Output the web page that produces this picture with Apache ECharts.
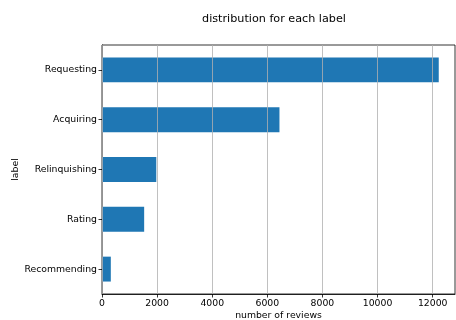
<!DOCTYPE html>
<html>
<head>
<meta charset="utf-8">
<script src="https://cdn.jsdelivr.net/npm/echarts@6/dist/echarts.min.js"></script>
<style>
  html, body { margin: 0; padding: 0; background: #fff; }
  #chart { width: 456px; height: 320px; }
</style>
</head>
<body>
<div id="chart"></div>
<script>
// Review counts per label
const labels = ['Requesting', 'Acquiring', 'Relinquishing', 'Rating', 'Recommending'];
const reviewCounts = [12220, 6440, 1970, 1530, 320];
const xTicks = [0, 2000, 4000, 6000, 8000, 10000, 12000];
const xMax = 12810;

const FONT = 'DejaVu Sans';
const chart = echarts.init(document.getElementById('chart'), null, { renderer: 'canvas' });

chart.setOption({
  animation: false,
  backgroundColor: '#ffffff',
  textStyle: { fontFamily: FONT },
  title: {
    text: 'distribution for each label',
    left: 269,
    top: 9,
    textAlign: 'center',
    textStyle: { fontFamily: FONT, fontSize: 11.2, fontWeight: 'normal', color: '#000' }
  },
  grid: {
    left: 102, right: 1, top: 45, bottom: 26,
    outerBoundsMode: 'none',
    containLabel: false,
    show: true, borderColor: '#000', borderWidth: 0.8, backgroundColor: 'transparent'
  },
  xAxis: {
    type: 'value',
    min: 0,
    max: xMax,
    z: 5,
    name: 'number of reviews',
    nameLocation: 'middle',
    nameGap: 17,
    nameMoveOverlap: false,
    nameTextStyle: { fontFamily: FONT, fontSize: 9.3, color: '#000' },
    axisLine: { show: true, lineStyle: { color: '#000', width: 0.8 } },
    axisTick: { show: true, length: 3.5, lineStyle: { color: '#000', width: 0.8 }, customValues: xTicks },
    axisLabel: {
      fontFamily: FONT, fontSize: 9.3, color: '#000', margin: 5,
      customValues: xTicks,
      formatter: v => String(v)
    },
    splitLine: { show: true, lineStyle: { color: '#b0b0b0', width: 0.8 } }
  },
  yAxis: {
    type: 'category',
    inverse: true,
    data: labels,
    name: 'label',
    nameLocation: 'middle',
    nameGap: 82,
    nameRotate: 90,
    nameMoveOverlap: false,
    nameTextStyle: { fontFamily: FONT, fontSize: 9.3, color: '#000' },
    axisLine: { show: true, lineStyle: { color: '#000', width: 0.8 } },
    axisTick: { show: true, alignWithLabel: true, length: 3.5, lineStyle: { color: '#000', width: 0.8 } },
    axisLabel: { fontFamily: FONT, fontSize: 9.3, color: '#000', margin: 5 },
    splitLine: { show: false }
  },
  series: [{
    type: 'bar',
    data: reviewCounts,
    barWidth: '50%',
    itemStyle: { color: '#1f77b4' }
  }]
});
</script>
</body>
</html>
